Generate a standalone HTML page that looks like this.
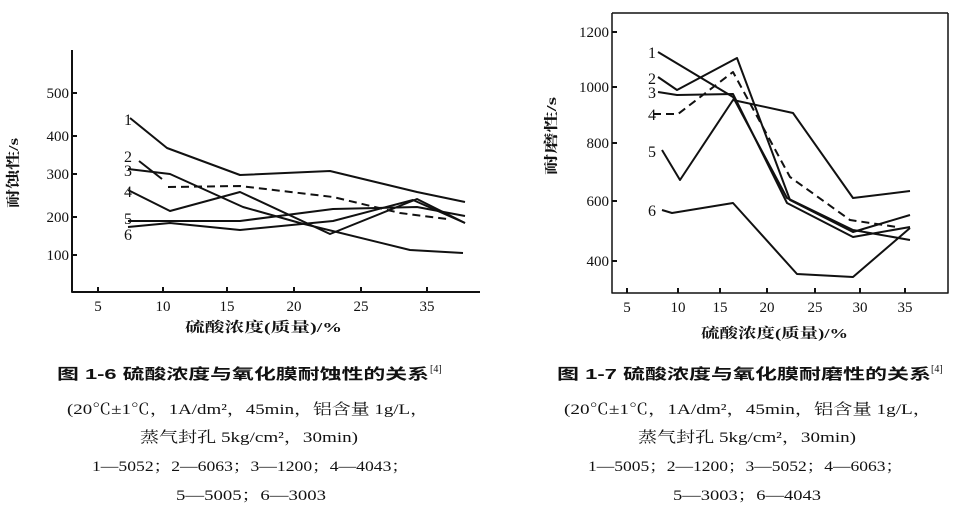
<!DOCTYPE html>
<html><head><meta charset="utf-8"><style>
html,body{margin:0;padding:0;background:#fff;width:955px;height:514px;overflow:hidden}
svg{display:block}
text{font-family:"Liberation Serif","Noto Serif CJK SC",serif;fill:#111}
.t{font-family:"Liberation Sans","Noto Sans CJK SC",sans-serif;font-weight:bold}
</style></head><body>
<svg width="955" height="514" viewBox="0 0 955 514" xmlns="http://www.w3.org/2000/svg">
<g stroke="#111" fill="none" stroke-width="2" stroke-linejoin="round">
<path d="M72 50 V292 H480"/>
<path d="M72 93 h5 M72 136 h5 M72 174 h5 M72 217 h5 M72 255 h5"/>
<path d="M98 292 v-5 M163 292 v-5 M227 292 v-5 M294 292 v-5 M361 292 v-5 M427 292 v-5"/>
<polyline points="130,118 167,148 240,175 330,171 417,192 465,202"/>
<polyline points="139,161 162,179"/>
<polyline stroke-dasharray="8,5" points="168,187 240,186 333,197 400,213 447,219"/>
<polyline points="128,169 170,174 243,207 300,223 410,250 463,253"/>
<polyline points="128,190 170,211 240,192 330,234 417,199 465,223"/>
<polyline points="128,221 240,221 333,209 417,207 465,216"/>
<polyline points="128,227 170,223 240,230 333,221 413,200 465,223"/>
<path d="M612 13 V293 H948 V13 M612 13 H948" stroke-width="1.5"/>
<path d="M612 32 h5 M612 87 h5 M612 143 h5 M612 201 h5 M612 261 h5"/>
<path d="M627 293 v-5 M678 293 v-5 M720 293 v-5 M767 293 v-5 M815 293 v-5 M860 293 v-5 M905 293 v-5"/>
<polyline points="658,52 733,97 787,198 853,230 910,240"/>
<polyline points="658,77 677,90 737,58 790,200 853,232 910,215"/>
<polyline points="658,92 677,95 733,94 787,203 853,237 910,227"/>
<polyline stroke-dasharray="8,5" points="653,114 678,114 733,72 790,177 850,220 897,227"/>
<polyline points="662,150 680,180 733,100 793,113 853,198 910,191"/>
<polyline points="662,210 672,213 733,203 797,274 853,277 910,228"/>
</g>
<g font-size="15">
<text x="69" y="98" text-anchor="end">500</text>
<text x="69" y="141" text-anchor="end">400</text>
<text x="69" y="179" text-anchor="end">300</text>
<text x="69" y="222" text-anchor="end">200</text>
<text x="69" y="260" text-anchor="end">100</text>
<g text-anchor="middle">
<text x="98" y="311">5</text><text x="163" y="311">10</text><text x="227" y="311">15</text>
<text x="294" y="311">20</text><text x="361" y="311">25</text><text x="427" y="311">35</text>
</g>
<g font-size="16">
<text x="124" y="125">1</text><text x="124" y="162">2</text><text x="124" y="176">3</text>
<text x="124" y="197">4</text><text x="124" y="224">5</text><text x="124" y="240">6</text>
</g>
<text x="609" y="37" text-anchor="end">1200</text>
<text x="609" y="92" text-anchor="end">1000</text>
<text x="609" y="148" text-anchor="end">800</text>
<text x="609" y="206" text-anchor="end">600</text>
<text x="609" y="266" text-anchor="end">400</text>
<g text-anchor="middle">
<text x="627" y="312">5</text><text x="678" y="312">10</text><text x="720" y="312">15</text>
<text x="767" y="312">20</text><text x="815" y="312">25</text><text x="860" y="312">30</text><text x="905" y="312">35</text>
</g>
<g font-size="16">
<text x="648" y="58">1</text><text x="648" y="84">2</text><text x="648" y="98">3</text>
<text x="648" y="120">4</text><text x="648" y="157">5</text><text x="648" y="216">6</text>
</g>
</g>
<g font-size="14" class="t">
<text x="185" y="332" textLength="157" lengthAdjust="spacingAndGlyphs">硫酸浓度(质量)/%</text>
<text x="701" y="338" textLength="147" lengthAdjust="spacingAndGlyphs">硫酸浓度(质量)/%</text>
<text transform="translate(18,208) rotate(-90)" textLength="70" lengthAdjust="spacingAndGlyphs">耐蚀性/s</text>
<text transform="translate(556,175) rotate(-90)" textLength="78" lengthAdjust="spacingAndGlyphs">耐磨性/s</text>
</g>
<g font-size="15">
<text class="t" x="57" y="379" textLength="372" lengthAdjust="spacingAndGlyphs">图 1-6  硫酸浓度与氧化膜耐蚀性的关系</text>
<text x="430" y="372" font-size="10">[4]</text>
<text x="67" y="414" textLength="362" lengthAdjust="spacingAndGlyphs">(20℃±1℃，1A/dm²，45min，铝含量 1g/L，</text>
<text x="140" y="442" textLength="218" lengthAdjust="spacingAndGlyphs">蒸气封孔 5kg/cm²，30min)</text>
<text x="92" y="471" textLength="317" lengthAdjust="spacingAndGlyphs">1—5052；2—6063；3—1200；4—4043；</text>
<text x="176" y="500" textLength="150" lengthAdjust="spacingAndGlyphs">5—5005；6—3003</text>
<text class="t" x="557" y="379" textLength="374" lengthAdjust="spacingAndGlyphs">图 1-7  硫酸浓度与氧化膜耐磨性的关系</text>
<text x="931" y="372" font-size="10">[4]</text>
<text x="564" y="414" textLength="368" lengthAdjust="spacingAndGlyphs">(20℃±1℃，1A/dm²，45min，铝含量 1g/L，</text>
<text x="638" y="442" textLength="218" lengthAdjust="spacingAndGlyphs">蒸气封孔 5kg/cm²，30min)</text>
<text x="588" y="471" textLength="315" lengthAdjust="spacingAndGlyphs">1—5005；2—1200；3—5052；4—6063；</text>
<text x="673" y="500" textLength="148" lengthAdjust="spacingAndGlyphs">5—3003；6—4043</text>
</g>
</svg>
</body></html>
